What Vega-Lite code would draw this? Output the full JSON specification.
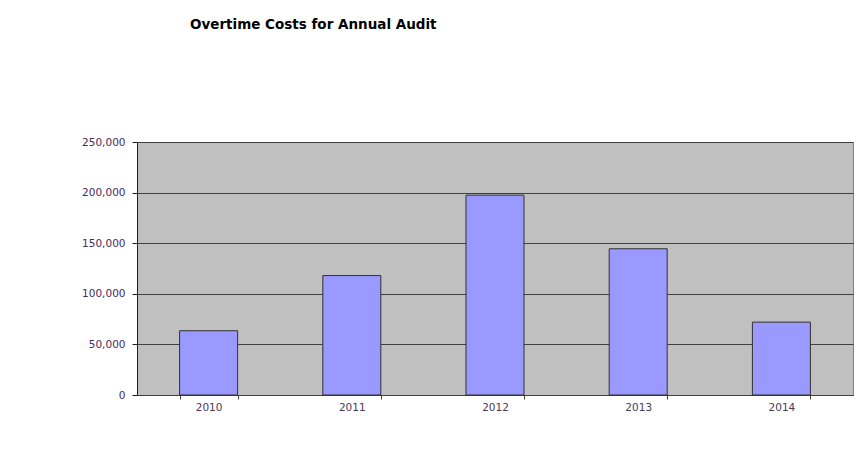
{
  "$schema": "https://vega.github.io/schema/vega-lite/v6.json",
  "width": 716,
  "height": 253,
  "autosize": {"type": "none"},
  "padding": {"left": 137, "top": 142, "right": 4, "bottom": 79},
  "background": "white",
  "title": {
    "text": "Overtime Costs for Annual Audit",
    "anchor": "start",
    "frame": "group",
    "dx": 53,
    "offset": 106,
    "font": "DejaVu Sans",
    "fontSize": 13.5,
    "fontWeight": "bold",
    "color": "#000000"
  },
  "data": {
    "values": [
      {"year": "2010", "cost": 63500},
      {"year": "2011", "cost": 118000},
      {"year": "2012", "cost": 197500},
      {"year": "2013", "cost": 144500},
      {"year": "2014", "cost": 72000}
    ]
  },
  "mark": {"type": "bar", "fill": "#9999FF", "stroke": "#303030", "strokeWidth": 1},
  "encoding": {
    "x": {
      "field": "year",
      "type": "ordinal",
      "title": null,
      "scale": {"paddingInner": 0.595, "paddingOuter": 0.2975},
      "axis": {
        "labelAngle": 0,
        "tickBand": "extent",
        "tickSize": 4,
        "tickColor": "#404040",
        "domainColor": "#404040",
        "labelFont": "DejaVu Sans",
        "labelFontSize": 10.5,
        "labelColor": "#4a3a5a",
        "labelPadding": 3
      }
    },
    "y": {
      "field": "cost",
      "type": "quantitative",
      "title": null,
      "scale": {"domain": [0, 250000]},
      "axis": {
        "values": [0, 50000, 100000, 150000, 200000, 250000],
        "format": ",d",
        "tickSize": 5,
        "tickColor": "#202020",
        "domainColor": "#202020",
        "gridColor": "#404040",
        "gridOpacity": 1,
        "labelFont": "DejaVu Sans",
        "labelFontSize": 10.5,
        "labelColor": "#4a2a5a",
        "labelPadding": 7
      }
    }
  },
  "config": {
    "view": {"fill": "#C0C0C0", "stroke": "#808080", "strokeWidth": 1}
  }
}
